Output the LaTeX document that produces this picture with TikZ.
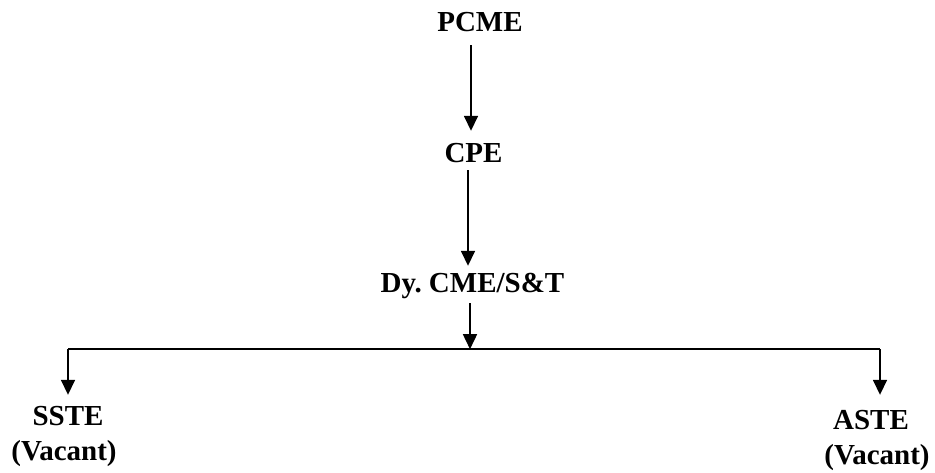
\documentclass[tikz,border=0pt]{standalone}
\usepackage{fontspec}
\setmainfont{Liberation Serif}
\usetikzlibrary{arrows.meta}
\begin{document}
\begin{tikzpicture}[x=1pt,y=-1pt,
  lbl/.style={anchor=base,inner sep=0pt,text height=20pt,text depth=0pt,
    font=\fontsize{29}{34}\selectfont\bfseries},
  conn/.style={line width=1.6pt},
  arr/.style={conn,-{Triangle[length=15pt,width=14pt]}}]
\useasboundingbox (0,0) rectangle (935,472);
\node[lbl] (pcme) at (480,31) {PCME};
\node[lbl] (cpe) at (473.5,162) {CPE};
\node[lbl] (dy) at (472.5,292) {Dy.\ CME/S\&T};
\node[lbl] (sste) at (68,425) {SSTE};
\node[lbl] (sstev) at (64,460) {(Vacant)};
\node[lbl] (aste) at (871,429) {ASTE};
\node[lbl] (astev) at (877,464) {(Vacant)};
\coordinate (J) at ([xshift=-2.5pt,yshift=-57pt]dy.south);
\coordinate (L) at (sste.north |- J);
\coordinate (R) at ([xshift=9pt]aste.north |- J);
\draw[arr] ([xshift=-9pt,yshift=-14pt]pcme.south) -- ([xshift=-2.5pt,yshift=11pt]cpe.north);
\draw[arr] ([xshift=-5.5pt,yshift=-8pt]cpe.south) -- ([xshift=-4.5pt,yshift=6pt]dy.north);
\draw[arr] ([xshift=-2.5pt,yshift=-11pt]dy.south) -- (J);
\draw[conn] (L) -- (R);
\draw[arr] (L) -- ([yshift=10pt]sste.north);
\draw[arr] (R) -- ([xshift=9pt,yshift=14pt]aste.north);
\end{tikzpicture}
\end{document}
